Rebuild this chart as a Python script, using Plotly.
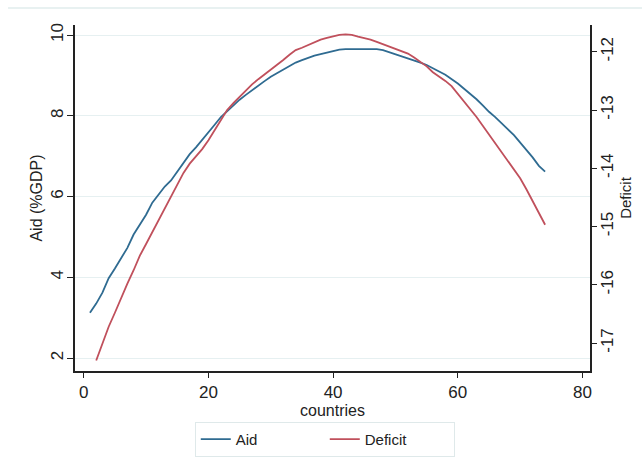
import plotly.graph_objects as go

countries_aid = list(range(1, 75))
aid = [3.12, 3.35, 3.62, 3.98, 4.22, 4.48, 4.73, 5.06, 5.30, 5.55,
       5.85, 6.05, 6.25, 6.40, 6.62, 6.85, 7.05, 7.22, 7.40, 7.58,
       7.78, 7.97, 8.12, 8.27, 8.40, 8.52, 8.64, 8.75, 8.86, 8.97,
       9.06, 9.15, 9.23, 9.32, 9.38, 9.44, 9.49, 9.53, 9.57, 9.60,
       9.64, 9.65, 9.65, 9.65, 9.65, 9.65, 9.65, 9.63, 9.58, 9.52,
       9.47, 9.42, 9.37, 9.32, 9.26, 9.19, 9.10, 9.02, 8.92, 8.80,
       8.67, 8.55, 8.41, 8.26, 8.10, 7.97, 7.83, 7.67, 7.52, 7.34,
       7.16, 6.97, 6.76, 6.62]

countries_def = list(range(2, 75))
deficit = [-17.30, -17.02, -16.72, -16.48, -16.22, -15.98, -15.75, -15.50, -15.30,
           -15.10, -14.88, -14.70, -14.50, -14.28, -14.08, -13.92, -13.80, -13.67,
           -13.52, -13.35, -13.16, -13.00, -12.88, -12.77, -12.66, -12.56, -12.47,
           -12.39, -12.31, -12.23, -12.14, -12.05, -11.97, -11.93, -11.88, -11.83,
           -11.79, -11.76, -11.73, -11.71, -11.70, -11.71, -11.74, -11.76, -11.79,
           -11.83, -11.87, -11.91, -11.95, -11.99, -12.03, -12.10, -12.18, -12.25,
           -12.35, -12.42, -12.50, -12.59, -12.72, -12.85, -12.98, -13.12, -13.27,
           -13.42, -13.56, -13.70, -13.85, -14.00, -14.17, -14.36, -14.56, -14.76,
           -14.97]

x_ticks = [0, 20, 40, 60, 80]
aid_ticks = [2, 4, 6, 8, 10]
def_ticks = [-17, -16, -15, -14, -13, -12]
def_tick_text = ["-17", "-16", "-15", "-14", "-13", "-12"]

BLUE = "#2f6b91"
RED = "#c0505c"
AXIS = "#222222"
FONT = "Liberation Sans"

fig = go.Figure()
fig.add_trace(go.Scatter(x=countries_aid, y=aid, mode="lines", name="Aid",
                         line=dict(color=BLUE, width=1.8)))
fig.add_trace(go.Scatter(x=countries_def, y=deficit, mode="lines", name="Deficit",
                         line=dict(color=RED, width=1.8), yaxis="y2"))

fig.update_layout(
    width=642, height=461,
    margin=dict(l=75, r=52, t=25, b=90, autoexpand=False),
    paper_bgcolor="white", plot_bgcolor="white",
    font=dict(family=FONT, size=16, color="#222222"),
    xaxis=dict(range=[-1.4, 81.2], tickvals=x_ticks, showgrid=False, zeroline=False,
               showline=True, linecolor=AXIS, linewidth=1.5, ticks="outside",
               ticklen=5, tickcolor=AXIS, tickfont=dict(size=17),
               title=dict(text="countries", standoff=0, font=dict(size=16))),
    yaxis=dict(range=[1.68, 10.25], tickvals=aid_ticks, tickangle=-90,
               showgrid=True, gridcolor="#e6f0f1", gridwidth=1, zeroline=False,
               showline=True, linecolor=AXIS, linewidth=1.5, ticks="outside",
               ticklen=6, tickcolor=AXIS, tickfont=dict(size=17),
               ticklabelstandoff=-3,
               title=dict(text="Aid (%GDP)", standoff=2, font=dict(size=16))),
    yaxis2=dict(range=[-17.48, -11.54], tickvals=def_ticks, ticktext=def_tick_text,
                tickangle=-90, overlaying="y", side="right", showgrid=False,
                zeroline=False, showline=True, linecolor=AXIS, linewidth=1.5,
                ticks="outside", ticklen=5, tickcolor=AXIS, tickfont=dict(size=17),
                ticklabelstandoff=-4,
                title=dict(text="Deficit", standoff=0, font=dict(size=15))),
    legend=dict(orientation="h", x=0.485, xanchor="center",
                yref="container", y=0.085, yanchor="top",
                bordercolor="#dfe9ea", borderwidth=1, font=dict(size=15),
                entrywidth=84, entrywidthmode="pixels"),
    showlegend=True,
)

fig.add_shape(type="line", xref="paper", yref="paper", x0=-0.13, x1=1.11,
              y0=1.049, y1=1.049, line=dict(color="#e8f1f1", width=2))

fig.write_html("out.html")
